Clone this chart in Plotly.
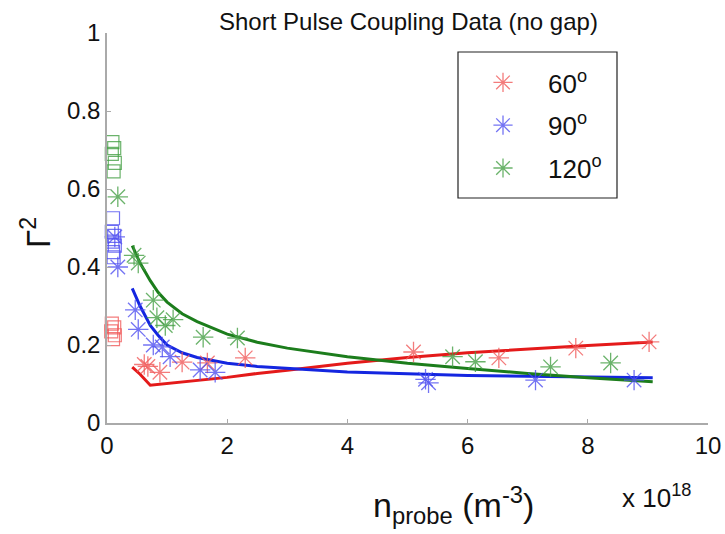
import plotly.graph_objects as go

# ---------------- data ----------------
# open squares near n ~ 0
red_sq_x = [0.08, 0.12, 0.07, 0.13, 0.10]
red_sq_y = [0.255, 0.245, 0.235, 0.225, 0.215]
blue_sq_x = [0.10, 0.08, 0.12, 0.09, 0.13, 0.10, 0.11]
blue_sq_y = [0.525, 0.49, 0.48, 0.465, 0.455, 0.438, 0.425]
green_sq_x = [0.09, 0.12, 0.08, 0.13, 0.11]
green_sq_y = [0.72, 0.705, 0.69, 0.667, 0.645]

# asterisk measurements
red_st_x = [0.62, 0.68, 0.88, 1.25, 1.67, 2.30, 5.10, 6.52, 7.80, 9.02]
red_st_y = [0.15, 0.145, 0.13, 0.156, 0.154, 0.167, 0.182, 0.167, 0.192, 0.208]
blue_st_x = [0.13, 0.18, 0.47, 0.52, 0.77, 0.92, 1.05, 1.55, 1.80, 5.30, 5.35, 7.13, 8.77]
blue_st_y = [0.477, 0.40, 0.29, 0.24, 0.20, 0.195, 0.17, 0.136, 0.13, 0.112, 0.103, 0.11, 0.11]
green_st_x = [0.18, 0.45, 0.52, 0.77, 0.83, 0.97, 1.10, 1.60, 2.17, 5.75, 6.13, 7.38, 8.38]
green_st_y = [0.58, 0.43, 0.41, 0.315, 0.27, 0.25, 0.265, 0.22, 0.218, 0.17, 0.157, 0.144, 0.154]

# model curves
line_x = [0.42, 0.55, 0.72, 0.85, 1.0, 1.25, 1.5, 2.0, 2.5, 3.0, 4.0, 5.0, 6.0, 7.0, 8.0, 9.08]
red_line = [0.143, 0.125, 0.097, 0.099, 0.100, 0.104, 0.108, 0.117, 0.127, 0.135, 0.153, 0.168, 0.180, 0.190, 0.199, 0.208]
blue_line = [0.345, 0.30, 0.25, 0.225, 0.200, 0.180, 0.168, 0.153, 0.145, 0.140, 0.131, 0.126, 0.122, 0.120, 0.118, 0.116]
green_line = [0.455, 0.41, 0.365, 0.335, 0.310, 0.280, 0.260, 0.228, 0.207, 0.192, 0.170, 0.153, 0.140, 0.127, 0.116, 0.106]

legend_names = ["60<sup>o</sup>", "90<sup>o</sup>", "120<sup>o</sup>"]
x_ticks = [0, 2, 4, 6, 8, 10]
y_ticks = [0, 0.2, 0.4, 0.6, 0.8, 1]
y_ticktext = ["0", "0.2", "0.4", "0.6", "0.8", "1"]

star_cols = ["rgba(240,90,90,0.8)", "rgba(80,80,240,0.8)", "rgba(70,160,70,0.8)"]
line_cols = ["#e41a1a", "#1426e0", "#1c7d1c"]

FONT = "Liberation Sans, Arial, Helvetica, sans-serif"

fig = go.Figure()

sq_sets = [(red_sq_x, red_sq_y), (blue_sq_x, blue_sq_y), (green_sq_x, green_sq_y)]
st_sets = [(red_st_x, red_st_y), (blue_st_x, blue_st_y), (green_st_x, green_st_y)]
ln_sets = [red_line, blue_line, green_line]

for i in range(3):
    fig.add_trace(go.Scatter(
        x=sq_sets[i][0], y=sq_sets[i][1], mode="markers", showlegend=False,
        marker=dict(symbol="square-open", size=13, color=star_cols[i],
                    line=dict(width=1.2, color=star_cols[i])),
        cliponaxis=False))
for i in range(3):
    fig.add_trace(go.Scatter(
        x=line_x, y=ln_sets[i], mode="lines", showlegend=False,
        line=dict(color=line_cols[i], width=3)))
for i in range(3):
    fig.add_trace(go.Scatter(
        x=st_sets[i][0], y=st_sets[i][1], mode="markers", name=legend_names[i],
        legendgroup=str(i),
        marker=dict(symbol="asterisk-open", size=17, color=star_cols[i],
                    line=dict(width=1.3, color=star_cols[i])),
        cliponaxis=False))

# layout numbers below are screen pixels (page body margin removed)
SW, SH = 725, 534
L, R, T, B = 107, 708, 33, 423

def px(xs):
    return (xs - L) / (R - L)

def py(ys):
    return (B - ys) / (B - T)

fig.update_layout(
    width=SW, height=SH,
    margin=dict(l=L, r=SW - R, t=T, b=SH - B, autoexpand=False),
    paper_bgcolor="white", plot_bgcolor="white",
    font=dict(family=FONT, color="#111"),
    showlegend=True,
    legend=dict(x=px(458), y=py(59), xanchor="left", yanchor="top",
                borderwidth=0, bgcolor="rgba(0,0,0,0)",
                font=dict(size=26, family=FONT, color="#111"),
                tracegroupgap=6, itemwidth=80),
    shapes=[dict(type="rect", xref="paper", yref="paper",
                 x0=px(458), x1=px(617), y0=py(198), y1=py(52),
                 line=dict(color="#222", width=1.2), fillcolor="rgba(0,0,0,0)")],
    xaxis=dict(range=[0, 10], tickvals=x_ticks, ticktext=[str(v) for v in x_ticks],
               showgrid=False, zeroline=False, showline=True, linecolor="#aaaaaa",
               linewidth=1.5, ticks="inside", ticklen=4, tickcolor="#aaaaaa",
               ticklabeloverflow="allow", automargin=False,
               tickfont=dict(size=24, family=FONT, color="#111")),
    yaxis=dict(range=[0, 1], tickvals=y_ticks, ticktext=y_ticktext,
               showgrid=False, zeroline=False, showline=True, linecolor="#aaaaaa",
               linewidth=1.5, ticks="inside", ticklen=4, tickcolor="#aaaaaa",
               automargin=False,
               tickfont=dict(size=24, family=FONT, color="#111")),
    annotations=[
        dict(text="Short Pulse Coupling Data (no gap)", xref="paper", yref="paper",
             x=px(408), y=py(21), showarrow=False, xanchor="center", yanchor="middle",
             font=dict(size=24, family=FONT, color="#111")),
        dict(text="n<sub>probe</sub> (m<sup>-3</sup>)", xref="paper", yref="paper",
             x=px(453), y=py(505), showarrow=False, xanchor="center", yanchor="middle",
             font=dict(size=34, family=FONT, color="#111")),
        dict(text="x 10<sup>18</sup>", xref="paper", yref="paper",
             x=px(656), y=py(496), showarrow=False, xanchor="center", yanchor="middle",
             font=dict(size=26, family=FONT, color="#111")),
        dict(text="Γ<sup>2</sup>", xref="paper", yref="paper", textangle=-90,
             x=px(36), y=py(233), showarrow=False, xanchor="center", yanchor="middle",
             font=dict(size=33, family=FONT, color="#111")),
    ],
)

fig.write_html("out.html", config={"displayModeBar": False},
               post_script="document.body.style.margin='0';document.body.style.overflow='hidden';")
